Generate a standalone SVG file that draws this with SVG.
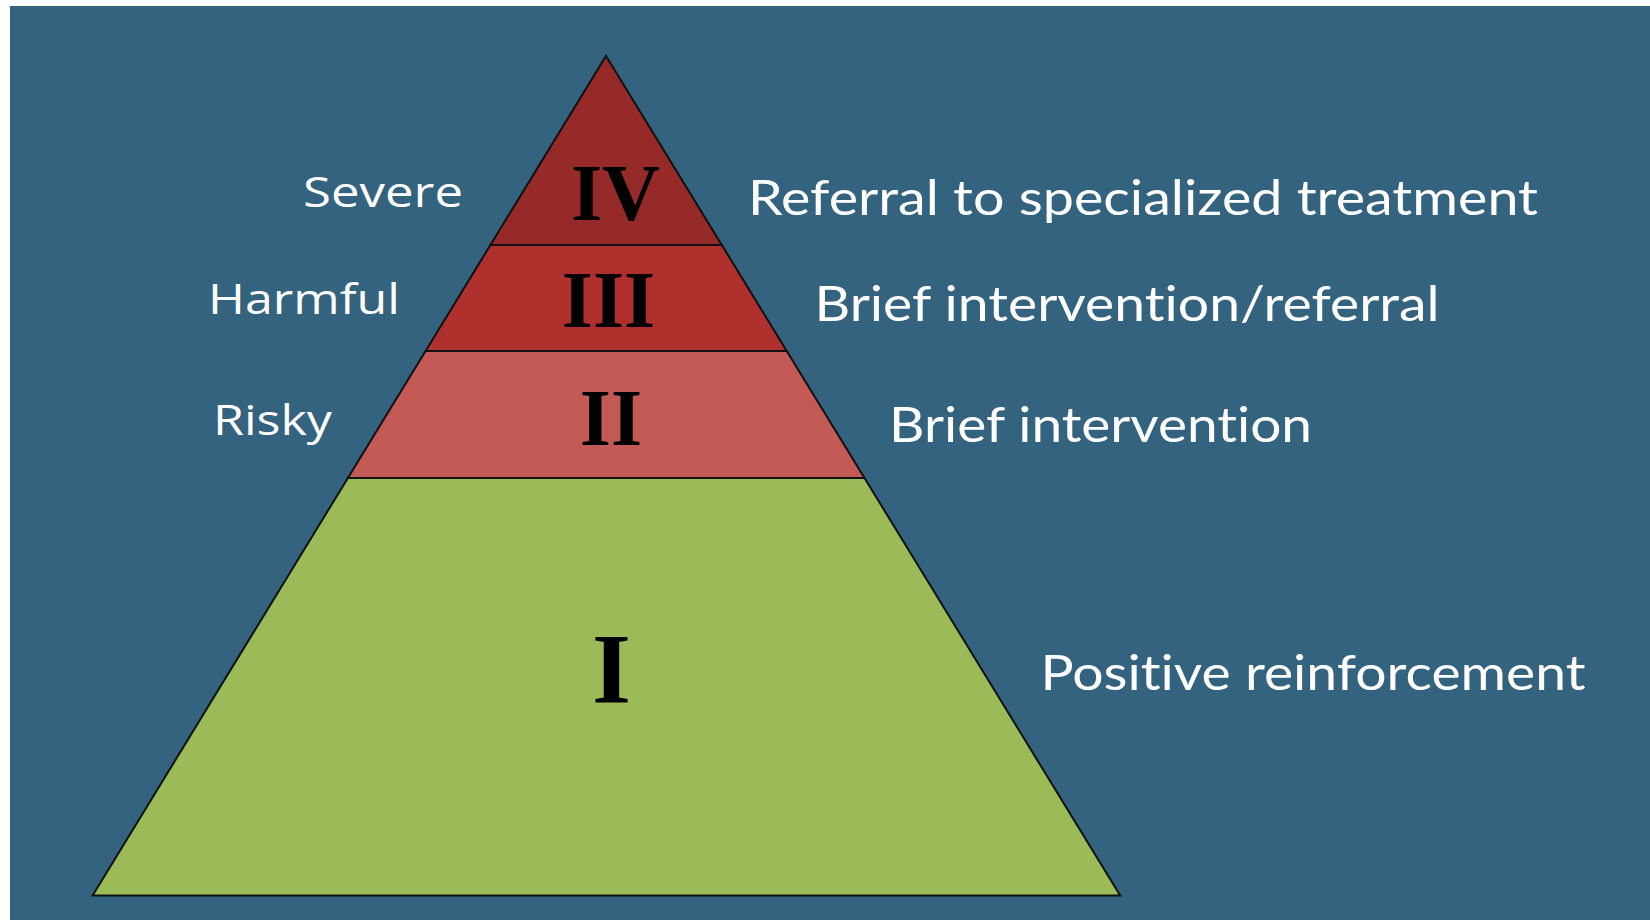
<svg xmlns="http://www.w3.org/2000/svg" width="1650" height="920" viewBox="0 0 1650 920">
  <style>
    .band { stroke: #111; stroke-width: 2; stroke-linejoin: miter; }
    .num { font-family: "Liberation Serif", "Times New Roman", serif; font-weight: bold; fill: #000; text-anchor: middle; }
    .rl { font-family: Lato, "Open Sans", sans-serif; fill: #fff; font-size: 48px; font-variant-ligatures: none; font-feature-settings: "liga" 0, "clig" 0; }
    .ll { font-family: "Open Sans", "Noto Sans", sans-serif; fill: #fff; font-size: 42px; font-variant-ligatures: none; }
  </style>
  <rect x="0" y="0" width="1650" height="920" fill="#ffffff"/>
  <rect x="10" y="6" width="1640" height="914" fill="#33637e"/>
  <g id="pyramid">
    <g id="level-I">
      <polygon class="band" points="347.9,478 864.5,478 1120.2,895.5 92.6,895.5" fill="#9bbb59"/>
      <text class="num" x="611.5" y="702" font-size="100">I</text>
    </g>
    <g id="level-II">
      <polygon class="band" points="425.6,351 786.7,351 864.5,478 347.9,478" fill="#c45a56"/>
      <text class="num" x="611" y="445" font-size="80">II</text>
    </g>
    <g id="level-III">
      <polygon class="band" points="490.4,245 721.8,245 786.7,351 425.6,351" fill="#b0302d"/>
      <text class="num" x="608.5" y="327" font-size="80">III</text>
    </g>
    <g id="level-IV">
      <polygon class="band" points="606,56 721.8,245 490.4,245" fill="#962a28"/>
      <text class="num" x="615.5" y="220" font-size="80">IV</text>
    </g>
  </g>
  <g id="left-labels">
    <text id="severe" class="ll" x="303" y="207" textLength="160" lengthAdjust="spacingAndGlyphs">Severe</text>
    <text id="harmful" class="ll" x="208" y="314" textLength="192" lengthAdjust="spacingAndGlyphs">Harmful</text>
    <text id="risky" class="ll" x="213" y="435" textLength="119" lengthAdjust="spacingAndGlyphs">Risky</text>
  </g>
  <g id="right-labels">
    <text id="referral" class="rl" x="748" y="215" textLength="790" lengthAdjust="spacingAndGlyphs">Referral to specialized treatment</text>
    <text id="brief-referral" class="rl" x="814.5" y="321" textLength="625" lengthAdjust="spacingAndGlyphs">Brief intervention/referral</text>
    <text id="brief" class="rl" x="889" y="442" textLength="423" lengthAdjust="spacingAndGlyphs">Brief intervention</text>
    <text id="positive" class="rl" x="1040.5" y="690" textLength="545" lengthAdjust="spacingAndGlyphs">Positive reinforcement</text>
  </g>
  <g id="connectors"/>
</svg>
